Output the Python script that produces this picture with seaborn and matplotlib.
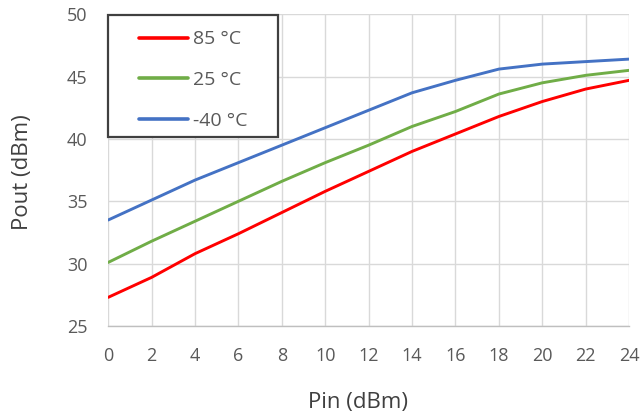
import numpy as np
import pandas as pd
import matplotlib
matplotlib.use("Agg")
import matplotlib.pyplot as plt
from matplotlib.patches import Rectangle
import seaborn as sns

# Input power sweep (dBm)
pin = [0, 2, 4, 6, 8, 10, 12, 14, 16, 18, 20, 22, 24]

# Output power (dBm) at each temperature
pout_85c = [27.3, 28.9, 30.8, 32.4, 34.1, 35.8, 37.4, 39.0, 40.4, 41.8, 43.0, 44.0, 44.7]
pout_25c = [30.1, 31.8, 33.4, 35.0, 36.6, 38.1, 39.5, 41.0, 42.2, 43.6, 44.5, 45.1, 45.5]
pout_m40c = [33.5, 35.1, 36.7, 38.1, 39.5, 40.9, 42.3, 43.7, 44.7, 45.6, 46.0, 46.2, 46.4]

temps = ["85 °C", "25 °C", "-40 °C"]
colors = ["#FF0000", "#70AD47", "#4472C4"]

x_ticks = list(range(0, 25, 2))
y_ticks = [25, 30, 35, 40, 45, 50]

df = pd.concat(
    [
        pd.DataFrame({"Pin": pin, "Pout": vals, "Temp": t})
        for t, vals in zip(temps, [pout_85c, pout_25c, pout_m40c])
    ],
    ignore_index=True,
)

sns.set_theme(style="white")
plt.rcParams["font.family"] = ["Open Sans", "DejaVu Sans"]

fig = plt.figure(figsize=(6.4, 4.18), dpi=100)
ax = fig.add_axes([0.169, 0.220, 0.814, 0.746])

sns.lineplot(
    data=df, x="Pin", y="Pout", hue="Temp", hue_order=temps,
    palette=dict(zip(temps, colors)), linewidth=2.1, ax=ax,
)

ax.set_xlim(0, 24)
ax.set_ylim(25, 50)
ax.set_xticks(x_ticks)
ax.set_yticks(y_ticks)
ax.grid(True, color="#D9D9D9", linewidth=1.0)
ax.set_axisbelow(True)
for side in ["top", "right", "left"]:
    ax.spines[side].set_visible(False)
ax.spines["bottom"].set_color("#BFBFBF")
ax.spines["bottom"].set_linewidth(1.0)

ax.tick_params(axis="both", length=0, pad=15, labelsize=13, labelcolor="#595959")
ax.set_xlabel("Pin (dBm)", fontsize=16, color="#404040", va="center")
ax.set_ylabel("Pout (dBm)", fontsize=16, color="#404040", va="center")
ax.xaxis.set_label_coords(0.479, -0.245)
ax.yaxis.set_label_coords(-0.165, 0.494)

# Boxed legend in the upper-left corner of the plot area
frame = Rectangle((0.0, 0.606), 0.326, 0.391, transform=ax.transAxes,
                  facecolor="white", edgecolor="#404040", linewidth=1.6,
                  zorder=4, clip_on=False)
ax.add_patch(frame)

leg = ax.legend(
    loc="center left", bbox_to_anchor=(0.0595, 0.789), frameon=False,
    fontsize=14, handlelength=2.5, handletextpad=0.26, labelspacing=1.16,
    borderpad=0.0, borderaxespad=0.0, title=None,
)
leg.set_zorder(5)
for txt in leg.get_texts():
    txt.set_color("#595959")
for line in leg.get_lines():
    line.set_linewidth(2.6)

fig.savefig("out.png", dpi=100)
